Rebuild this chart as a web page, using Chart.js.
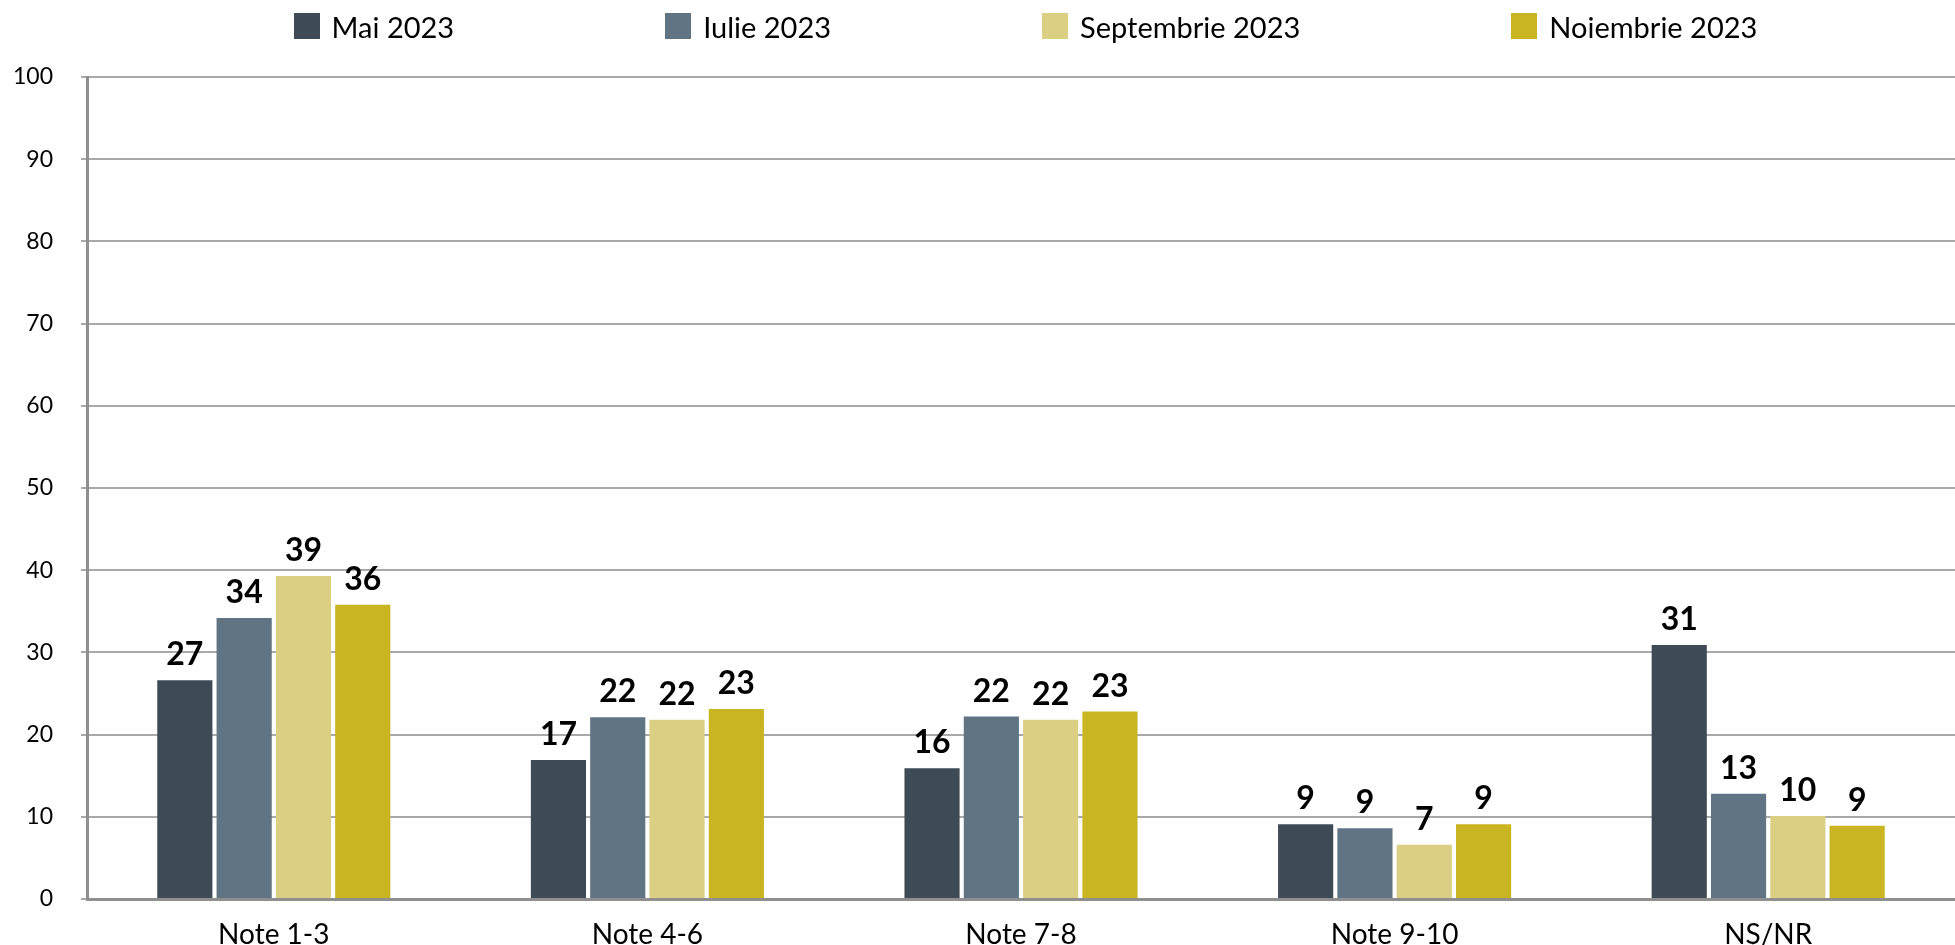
<!DOCTYPE html>
<html lang="ro">
<head>
  <meta charset="UTF-8" />
  <title>Note 2023</title>
  <script src="https://cdn.jsdelivr.net/npm/chart.js@4.4.1/dist/chart.umd.min.js"></script>
  <style>
    * { box-sizing: border-box; }
    html, body { margin: 0; padding: 0; background: #fff; }
    body { width: 1955px; height: 945px; position: relative; overflow: hidden; font-family: Lato, sans-serif; }

    /* LEGEND (html, above the canvas) */
    .legend {
      position: absolute; top: 13px; left: 96px; right: 0;
      display: flex; justify-content: center; gap: 211px; z-index: 2;
    }
    .legend-item { display: flex; align-items: center; height: 26px; font-size: 29px; color: #000; white-space: nowrap; }
    .legend-item i { display: inline-block; width: 26px; height: 26px; margin-right: 12px; }

    .chart-box { position: absolute; left: 0; top: 0; width: 1955px; height: 945px; }
  </style>
</head>
<body>
  <div class="legend" id="legend"></div>
  <div class="chart-box"><canvas id="barChart"></canvas></div>

  <script>
    // data
    const categories = ["Note 1-3", "Note 4-6", "Note 7-8", "Note 9-10", "NȘ/NR"];
    const seriesNames = ["Mai 2023", "Iulie 2023", "Septembrie 2023", "Noiembrie 2023"];
    const mai2023 = [26.6, 16.9, 15.9, 9.1, 30.9];
    const iulie2023 = [34.2, 22.1, 22.2, 8.6, 12.8];
    const septembrie2023 = [39.3, 21.8, 21.8, 6.6, 10.1];
    const noiembrie2023 = [35.8, 23.1, 22.8, 9.1, 8.9];
    const yTicks = [0, 10, 20, 30, 40, 50, 60, 70, 80, 90, 100];

    const colors = ["#3e4a56", "#607484", "#dbcf84", "#c9b521"];
    const seriesValues = [mai2023, iulie2023, septembrie2023, noiembrie2023];

    // numbers above the bars
    const valueLabels = {
      id: "valueLabels",
      afterDatasetsDraw(chart) {
        const ctx = chart.ctx;
        ctx.save();
        ctx.font = "bold 32px Lato";
        ctx.fillStyle = "#000";
        ctx.textAlign = "center";
        ctx.textBaseline = "alphabetic";
        chart.data.datasets.forEach((ds, i) => {
          chart.getDatasetMeta(i).data.forEach((bar, j) => {
            ctx.fillText(String(Math.round(ds.data[j])), bar.x, bar.y - 15);
          });
        });
        ctx.restore();
      }
    };

    const chart = new Chart(document.getElementById("barChart"), {
      type: "bar",
      data: {
        labels: categories,
        datasets: seriesNames.map((name, i) => ({
          label: name,
          data: seriesValues[i],
          backgroundColor: colors[i],
          categoryPercentage: 0.635,
          barPercentage: 0.93
        }))
      },
      options: {
        responsive: true,
        maintainAspectRatio: false,
        animation: false,
        // plot runs a little past the right edge, as in the original
        layout: { padding: { top: 77, right: -9, bottom: 0, left: 0 } },
        plugins: {
          legend: { display: false },
          tooltip: { enabled: false }
        },
        scales: {
          x: {
            grid: { display: false },
            border: { display: true, color: "#8f8f8f", width: 3 },
            ticks: { color: "#000", font: { family: "Lato", size: 28 }, padding: 11 },
            afterFit: (s) => { s.height = 46; }
          },
          y: {
            min: 0,
            max: 100,
            afterBuildTicks: (s) => { s.ticks = yTicks.map(v => ({ value: v })); },
            grid: { color: "#a9a9a9", lineWidth: 2, drawTicks: true, tickLength: 6 },
            border: { display: true, color: "#8f8f8f", width: 3 },
            ticks: { color: "#000", font: { family: "Lato", size: 23 }, padding: 28 },
            afterFit: (s) => { s.width = 87; }
          }
        }
      },
      plugins: [valueLabels]
    });

    // html legend built from the chart's datasets
    const legendEl = document.getElementById("legend");
    chart.data.datasets.forEach((ds) => {
      const item = document.createElement("div");
      item.className = "legend-item";
      const box = document.createElement("i");
      box.style.background = ds.backgroundColor;
      item.appendChild(box);
      item.appendChild(document.createTextNode(ds.label));
      legendEl.appendChild(item);
    });
  </script>
</body>
</html>
